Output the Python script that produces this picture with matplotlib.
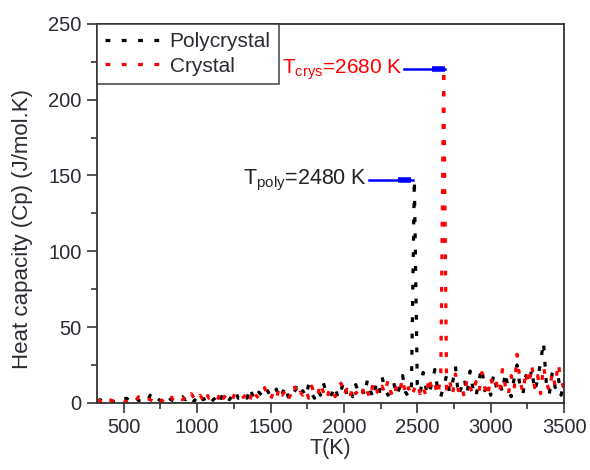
import matplotlib
matplotlib.use("Agg")
import matplotlib.pyplot as plt

plt.rcParams['font.family'] = ['Liberation Sans', 'DejaVu Sans']
plt.rcParams['mathtext.fontset'] = 'custom'
plt.rcParams['mathtext.rm'] = 'Liberation Sans'
plt.rcParams['mathtext.it'] = 'Liberation Sans'

temperature = [
    320, 340, 360, 380, 400, 420, 440, 460, 480, 500,
    520, 540, 560, 580, 600, 620, 640, 660, 680, 700,
    720, 740, 760, 780, 800, 820, 840, 860, 880, 900,
    920, 940, 960, 980, 1000, 1020, 1040, 1060, 1080, 1100,
    1120, 1140, 1160, 1180, 1200, 1220, 1240, 1260, 1280, 1300,
    1320, 1340, 1360, 1380, 1400, 1420, 1440, 1460, 1480, 1500,
    1520, 1540, 1560, 1580, 1600, 1620, 1640, 1660, 1680, 1700,
    1720, 1740, 1760, 1780, 1800, 1820, 1840, 1860, 1880, 1900,
    1920, 1940, 1960, 1980, 2000, 2020, 2040, 2060, 2080, 2100,
    2120, 2140, 2160, 2180, 2200, 2220, 2240, 2260, 2280, 2300,
    2320, 2340, 2360, 2380, 2400, 2420, 2440, 2460, 2480,
    2500, 2520, 2540, 2560, 2580, 2600, 2620, 2640, 2660, 2680,
    2700, 2720, 2740, 2760, 2780, 2800, 2820, 2840, 2860, 2880,
    2900, 2920, 2940, 2960, 2980, 3000, 3020, 3040, 3060, 3080,
    3100, 3120, 3140, 3160, 3180, 3200, 3220, 3240, 3260, 3280,
    3300, 3320, 3340, 3360, 3380, 3400, 3420, 3440, 3460, 3480, 3500,
]

cp_poly = [
    1, 2, 0.5, 1.5, 3, 1, 0.5, 2, 1, 2.5,
    3, 1, 2, 4, 1.5, 2, 3, 1, 5, 2,
    4, 2, 1, 3, 5, 2, 1.5, 3, 2, 4,
    2, 5, 3, 1, 4, 6, 2, 3, 5, 1,
    3, 6, 2, 7, 4, 2, 5, 8, 3, 4,
    6, 3, 10, 4, 2, 7, 5, 3, 8, 4,
    5, 9, 3, 6, 11, 4, 2, 7, 10, 5,
    8, 4, 12, 6, 3, 9, 5, 13, 7, 4,
    6, 11, 3, 8, 14, 5, 9, 4, 12, 7,
    10, 5, 15, 8, 3, 12, 6, 17, 9, 5,
    8, 13, 5, 10, 18, 7, 4, 10, 147,
    12, 6, 20, 9, 5, 14, 22, 8, 4, 11,
    18, 7, 13, 24, 5, 10, 16, 6, 21, 9,
    4, 15, 23, 8, 12, 5, 19, 10, 14, 7,
    20, 9, 4, 16, 25, 11, 6, 18, 13, 22,
    8, 15, 27, 40, 12, 6, 20, 10, 17, 5, 14,
]

cp_crys = [
    2, 1, 3, 0.5, 2, 1.5, 1, 3, 2, 0.5,
    1, 3, 2, 1, 4, 2, 1, 3, 2, 1,
    2, 4, 1, 3, 2, 5, 1, 3, 4, 2,
    4, 2, 6, 3, 1, 5, 2, 7, 3, 4,
    5, 2, 8, 3, 6, 4, 2, 7, 5, 3,
    4, 7, 2, 9, 5, 3, 6, 10, 4, 2,
    7, 3, 10, 5, 8, 2, 6, 12, 4, 7,
    5, 9, 3, 11, 6, 4, 13, 7, 2, 8,
    10, 4, 7, 13, 5, 9, 3, 11, 6, 8,
    4, 12, 7, 3, 14, 9, 5, 11, 6, 15,
    7, 3, 12, 8, 16, 5, 10, 4, 9,
    13, 6, 11, 4, 17, 8, 12, 5, 18, 220,
    9, 15, 5, 19, 8, 12, 4, 16, 10, 6,
    14, 7, 20, 10, 4, 17, 9, 13, 6, 22,
    11, 5, 18, 9, 32, 14, 7, 21, 12, 25,
    10, 18, 6, 24, 13, 8, 20, 11, 26, 15, 9,
]

t_poly, peak_poly = 2480, 147
t_crys, peak_crys = 2680, 220

x_ticks = [500, 1000, 1500, 2000, 2500, 3000, 3500]
y_ticks = [0, 50, 100, 150, 200, 250]

txt = '#2b2b33'
fig = plt.figure(figsize=(5.9, 4.7), dpi=100)
ax = fig.add_axes([0.164, 0.143, 0.792, 0.806])

dots = (0, (1.5, 3.6))
ax.plot(temperature, cp_poly, color='black', linestyle=dots, lw=2.3,
        label='Polycrystal')
ax.plot(temperature, cp_crys, color='red', linestyle=dots, lw=2.3,
        label='Crystal')

# blue pointer lines
ax.plot([2170, t_poly - 10], [peak_poly, peak_poly], color='blue', lw=1.8)
ax.plot([2370, t_poly - 25], [peak_poly, peak_poly], color='blue', lw=4.0,
        solid_capstyle='butt')
ax.plot([2410, t_crys + 10], [peak_crys, peak_crys], color='blue', lw=1.8)
ax.plot([2600, t_crys + 10], [peak_crys, peak_crys], color='blue', lw=4.0,
        solid_capstyle='butt')

ax.text(2160, peak_poly, r'T$_{\mathrm{poly}}$=2480 K', ha='right',
        va='center', fontsize=15.5, color='#222222')
ax.text(2400, peak_crys, r'T$_{\mathrm{crys}}$=2680 K', ha='right',
        va='center', fontsize=15, color='red')

ax.set_xlim(316, 3500)
ax.set_ylim(0, 250)
ax.set_xticks(x_ticks)
ax.set_yticks(y_ticks)
ax.set_xticks([750, 1250, 1750, 2250, 2750, 3250], minor=True)
ax.set_yticks([25, 75, 125, 175, 225], minor=True)
ax.tick_params(which='both', direction='out', top=False, right=False,
               labelsize=14.5, labelcolor=txt, color='#333333', pad=4)
ax.tick_params(which='major', length=7, width=1.2)
ax.tick_params(which='minor', length=4, width=1.2)
for s in ax.spines.values():
    s.set_color('#333333')
    s.set_linewidth(1.3)

ax.set_xlabel('T(K)', fontsize=15.5, color=txt, labelpad=1)
ax.set_ylabel('Heat capacity (Cp) (J/mol.K)', fontsize=16, color=txt)
ax.yaxis.set_label_coords(-0.137, 0.46)

leg = ax.legend(loc='upper left', fontsize=15, frameon=True, fancybox=False,
                edgecolor='#333333', borderaxespad=0, handlelength=2.6,
                handletextpad=0.5, borderpad=0.4, labelspacing=0.25)
leg.get_frame().set_linewidth(1.3)
for t in leg.get_texts():
    t.set_color(txt)

fig.savefig('out.png', dpi=100)
